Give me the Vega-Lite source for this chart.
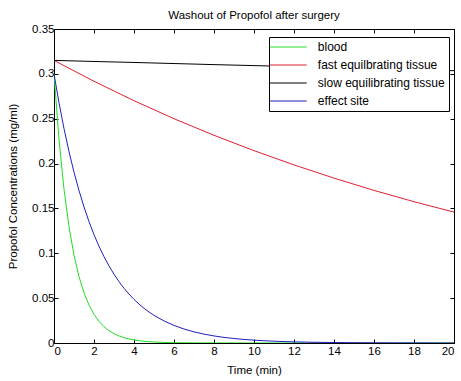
{
  "$schema": "https://vega.github.io/schema/vega-lite/v6.json",
  "width": 400,
  "height": 314,
  "autosize": {"type": "none"},
  "padding": {"left": 54, "top": 29, "right": 7, "bottom": 38},
  "background": "white",
  "config": {
    "view": {"stroke": "black", "strokeWidth": 1},
    "font": "Liberation Sans",
    "axis": {"grid": false, "domain": false, "tickColor": "black", "tickSize": -4, "labelColor": "black", "labelFontSize": 11.5, "labelFont": "Liberation Sans", "titleFont": "Liberation Sans", "titleFontSize": 11.5, "titleFontWeight": "normal", "titleColor": "black"}
  },
  "title": {"text": "Washout of Propofol after surgery", "fontSize": 11.5, "fontWeight": "normal", "font": "Liberation Sans", "color": "black", "offset": 2},
  "data": {"values": [
    {"series": "blood", "t": 0, "c": 0.3},
    {"series": "blood", "t": 0.25, "c": 0.2267},
    {"series": "blood", "t": 0.5, "c": 0.1714},
    {"series": "blood", "t": 0.75, "c": 0.1295},
    {"series": "blood", "t": 1.0, "c": 0.0979},
    {"series": "blood", "t": 1.25, "c": 0.074},
    {"series": "blood", "t": 1.5, "c": 0.0559},
    {"series": "blood", "t": 1.75, "c": 0.0423},
    {"series": "blood", "t": 2.0, "c": 0.0319},
    {"series": "blood", "t": 2.25, "c": 0.0241},
    {"series": "blood", "t": 2.5, "c": 0.0182},
    {"series": "blood", "t": 2.75, "c": 0.0138},
    {"series": "blood", "t": 3.0, "c": 0.0104},
    {"series": "blood", "t": 3.25, "c": 0.00788},
    {"series": "blood", "t": 3.5, "c": 0.00596},
    {"series": "blood", "t": 3.75, "c": 0.0045},
    {"series": "blood", "t": 4.0, "c": 0.0034},
    {"series": "blood", "t": 4.25, "c": 0.00257},
    {"series": "blood", "t": 4.5, "c": 0.00194},
    {"series": "blood", "t": 4.75, "c": 0.00147},
    {"series": "blood", "t": 5.0, "c": 0.00111},
    {"series": "blood", "t": 5.5, "c": 0.00063},
    {"series": "blood", "t": 6.0, "c": 0.00036},
    {"series": "blood", "t": 6.5, "c": 0.00021},
    {"series": "blood", "t": 7.0, "c": 0.00012},
    {"series": "blood", "t": 8.0, "c": 0.00004},
    {"series": "blood", "t": 10.0, "c": 0.000004},
    {"series": "blood", "t": 12.0, "c": 0},
    {"series": "blood", "t": 14.0, "c": 0},
    {"series": "blood", "t": 16.0, "c": 0},
    {"series": "blood", "t": 18.0, "c": 0},
    {"series": "blood", "t": 20.0, "c": 0},
    {"series": "fast equilbrating tissue", "t": 0, "c": 0.315},
    {"series": "fast equilbrating tissue", "t": 2, "c": 0.2917},
    {"series": "fast equilbrating tissue", "t": 4, "c": 0.2701},
    {"series": "fast equilbrating tissue", "t": 6, "c": 0.25},
    {"series": "fast equilbrating tissue", "t": 8, "c": 0.2315},
    {"series": "fast equilbrating tissue", "t": 10, "c": 0.2144},
    {"series": "fast equilbrating tissue", "t": 12, "c": 0.1985},
    {"series": "fast equilbrating tissue", "t": 14, "c": 0.1838},
    {"series": "fast equilbrating tissue", "t": 16, "c": 0.1701},
    {"series": "fast equilbrating tissue", "t": 18, "c": 0.1575},
    {"series": "fast equilbrating tissue", "t": 20, "c": 0.1459},
    {"series": "slow equilibrating tissue", "t": 0, "c": 0.315},
    {"series": "slow equilibrating tissue", "t": 2, "c": 0.3138},
    {"series": "slow equilibrating tissue", "t": 4, "c": 0.3127},
    {"series": "slow equilibrating tissue", "t": 6, "c": 0.3115},
    {"series": "slow equilibrating tissue", "t": 8, "c": 0.3103},
    {"series": "slow equilibrating tissue", "t": 10, "c": 0.3092},
    {"series": "slow equilibrating tissue", "t": 12, "c": 0.308},
    {"series": "slow equilibrating tissue", "t": 14, "c": 0.3069},
    {"series": "slow equilibrating tissue", "t": 16, "c": 0.3058},
    {"series": "slow equilibrating tissue", "t": 18, "c": 0.3046},
    {"series": "slow equilibrating tissue", "t": 20, "c": 0.3035},
    {"series": "effect site", "t": 0, "c": 0.3},
    {"series": "effect site", "t": 0.25, "c": 0.2678},
    {"series": "effect site", "t": 0.5, "c": 0.239},
    {"series": "effect site", "t": 0.75, "c": 0.2133},
    {"series": "effect site", "t": 1.0, "c": 0.1904},
    {"series": "effect site", "t": 1.25, "c": 0.1699},
    {"series": "effect site", "t": 1.5, "c": 0.1516},
    {"series": "effect site", "t": 1.75, "c": 0.1353},
    {"series": "effect site", "t": 2.0, "c": 0.1208},
    {"series": "effect site", "t": 2.25, "c": 0.1078},
    {"series": "effect site", "t": 2.5, "c": 0.0962},
    {"series": "effect site", "t": 2.75, "c": 0.0859},
    {"series": "effect site", "t": 3.0, "c": 0.0766},
    {"series": "effect site", "t": 3.25, "c": 0.0684},
    {"series": "effect site", "t": 3.5, "c": 0.061},
    {"series": "effect site", "t": 3.75, "c": 0.0545},
    {"series": "effect site", "t": 4.0, "c": 0.0486},
    {"series": "effect site", "t": 4.25, "c": 0.0434},
    {"series": "effect site", "t": 4.5, "c": 0.0387},
    {"series": "effect site", "t": 4.75, "c": 0.0346},
    {"series": "effect site", "t": 5.0, "c": 0.0308},
    {"series": "effect site", "t": 5.5, "c": 0.0246},
    {"series": "effect site", "t": 6.0, "c": 0.0196},
    {"series": "effect site", "t": 6.5, "c": 0.0156},
    {"series": "effect site", "t": 7.0, "c": 0.0124},
    {"series": "effect site", "t": 7.5, "c": 0.00989},
    {"series": "effect site", "t": 8.0, "c": 0.00788},
    {"series": "effect site", "t": 8.5, "c": 0.00627},
    {"series": "effect site", "t": 9.0, "c": 0.005},
    {"series": "effect site", "t": 9.5, "c": 0.00398},
    {"series": "effect site", "t": 10.0, "c": 0.00317},
    {"series": "effect site", "t": 10.5, "c": 0.00252},
    {"series": "effect site", "t": 11.0, "c": 0.00201},
    {"series": "effect site", "t": 11.5, "c": 0.0016},
    {"series": "effect site", "t": 12.0, "c": 0.00127},
    {"series": "effect site", "t": 13.0, "c": 0.00081},
    {"series": "effect site", "t": 14.0, "c": 0.00051},
    {"series": "effect site", "t": 15.0, "c": 0.00033},
    {"series": "effect site", "t": 16.0, "c": 0.00021},
    {"series": "effect site", "t": 17.0, "c": 0.00013},
    {"series": "effect site", "t": 18.0, "c": 0.00008},
    {"series": "effect site", "t": 19.0, "c": 0.00005},
    {"series": "effect site", "t": 20.0, "c": 0.00003}
  ]},
  "layer": [
    {
      "mark": {"type": "line", "strokeWidth": 1, "clip": true},
      "encoding": {
        "x": {"field": "t", "type": "quantitative", "scale": {"domain": [0, 20], "nice": false},
              "axis": {"orient": "bottom", "title": "Time (min)", "values": [0,2,4,6,8,10,12,14,16,18,20], "labelPadding": 6, "titlePadding": 8}},
        "y": {"field": "c", "type": "quantitative", "scale": {"domain": [0, 0.35], "nice": false},
              "axis": {"orient": "left", "title": "Propofol Concentrations (mg/ml)", "values": [0,0.05,0.1,0.15,0.2,0.25,0.3,0.35], "format": "~g", "labelPadding": 4, "titlePadding": 13}},
        "color": {"field": "series", "type": "nominal",
                  "scale": {"domain": ["blood", "fast equilbrating tissue", "slow equilibrating tissue", "effect site"], "range": ["#22dd22", "#e02030", "#000000", "#2020c0"]},
                  "legend": {"orient": "none", "legendX": 215, "legendY": 8, "title": null, "strokeColor": "black", "fillColor": "white", "padding": 4, "cornerRadius": 0,
                             "symbolType": "M-4,0H4", "symbolSize": 85, "symbolStrokeWidth": 1, "symbolOffset": 9.25, "labelOffset": 23.6, "rowPadding": 6,
                             "labelFontSize": 12, "labelFont": "Liberation Sans", "labelColor": "black", "symbolFillColor": "transparent"}},
        "order": {"field": "t", "type": "quantitative"}
      }
    },
    {
      "mark": {"type": "point", "opacity": 0},
      "encoding": {
        "x": {"field": "t", "type": "quantitative", "scale": {"domain": [0, 20], "nice": false},
              "axis": {"orient": "top", "title": null, "labels": false, "values": [0,2,4,6,8,10,12,14,16,18,20]}},
        "y": {"field": "c", "type": "quantitative", "scale": {"domain": [0, 0.35], "nice": false},
              "axis": {"orient": "right", "title": null, "labels": false, "values": [0,0.05,0.1,0.15,0.2,0.25,0.3,0.35]}}
      }
    }
  ],
  "resolve": {"scale": {"x": "independent", "y": "independent"}, "axis": {"x": "independent", "y": "independent"}}
}
